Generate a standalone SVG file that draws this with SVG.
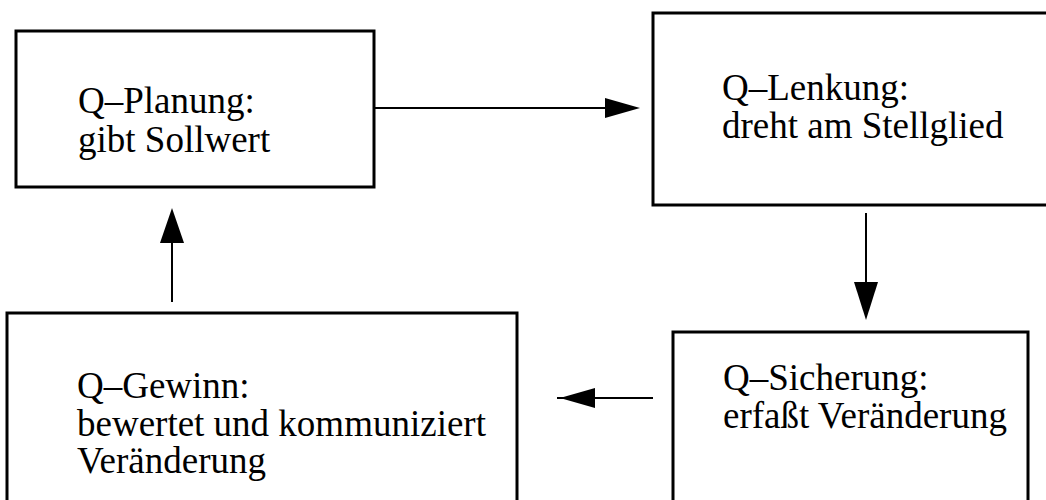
<svg xmlns="http://www.w3.org/2000/svg" width="1046" height="500" viewBox="0 0 1046 500">
  <style>
    .box { fill: #ffffff; stroke: #000000; stroke-width: 3; }
    .label { font-family: "Liberation Serif", "Times New Roman", serif; font-size: 37px; fill: #000000; }
    .link { fill: none; stroke: #000000; stroke-width: 2; }
    .head { fill: #000000; stroke: none; }
  </style>
  <rect x="0" y="0" width="1046" height="500" fill="#ffffff"/>

  <g id="q-planung">
    <rect class="box" x="16" y="31" width="358" height="156"/>
    <text class="label" x="78" y="113">Q–Planung:</text>
    <text class="label" x="78" y="152">gibt Sollwert</text>
  </g>

  <g id="q-lenkung">
    <rect class="box" x="653" y="13" width="400" height="192"/>
    <text class="label" x="722" y="100">Q–Lenkung:</text>
    <text class="label" x="722" y="138">dreht am Stellglied</text>
  </g>

  <g id="q-sicherung">
    <rect class="box" x="673" y="332" width="355" height="180"/>
    <text class="label" x="723" y="390">Q–Sicherung:</text>
    <text class="label" x="723" y="428">erfaßt Veränderung</text>
  </g>

  <g id="q-gewinn">
    <rect class="box" x="7" y="313" width="510" height="200"/>
    <text class="label" x="77" y="398">Q–Gewinn:</text>
    <text class="label" x="77" y="436">bewertet und kommuniziert</text>
    <text class="label" x="77" y="473">Veränderung</text>
  </g>

  <g id="connectors">
    <!-- Planung -> Lenkung -->
    <line class="link" x1="375" y1="108" x2="608" y2="108"/>
    <polygon class="head" points="640,108 605,98 605,118"/>
    <!-- Lenkung -> Sicherung -->
    <line class="link" x1="866" y1="213" x2="866" y2="285"/>
    <polygon class="head" points="866,320 854,282 878,282"/>
    <!-- Sicherung -> Gewinn -->
    <line class="link" x1="653" y1="398" x2="590" y2="398"/>
    <line class="link" x1="557" y1="398" x2="566" y2="398"/>
    <polygon class="head" points="560,398 595,388 595,408"/>
    <!-- Gewinn -> Planung -->
    <line class="link" x1="172" y1="302" x2="172" y2="240"/>
    <polygon class="head" points="172,208 160,243 184,243"/>
  </g>
</svg>
